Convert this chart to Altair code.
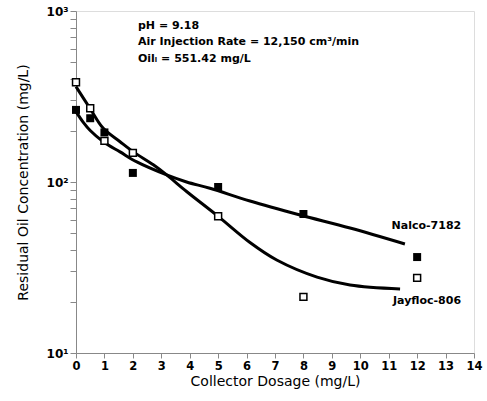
import altair as alt
import pandas as pd

# Measured residual oil concentration vs collector dosage
dosage = [0, 0.5, 1, 2, 5, 8, 12]
nalco_obs = [264, 236, 195, 113, 93.5, 65, 36.4]
jayfloc_obs = [383, 270, 174, 148, 63, 21.3, 27.5]

# Smoothed trend curves
nalco_fit_x = [0, 0.25, 0.5, 0.96, 1.55, 2.14, 3.19, 3.89, 4.71, 6.12, 7.88, 9.64, 11.57]
nalco_fit_y = [258, 224, 200, 172, 150, 131, 110, 100, 92, 77.4, 64.1, 53.8, 43.4]
jay_fit_x = [0, 0.49, 0.96, 1.55, 2.02, 2.72, 3.19, 3.89, 5.0, 6.12, 7.06, 8.48, 9.64, 11.4]
jay_fit_y = [361, 270, 206, 172, 150, 126, 110, 88, 63, 44.3, 35, 27.8, 25, 23.7]

# Series labels and conditions text
series_names = ["Nalco-7182", "Jayfloc-806"]
series_label_x = [11.1, 11.15]
series_label_y = [55.3, 20.2]
cond_text = ["pH = 9.18", "Air Injection Rate = 12,150 cm³/min", "Oilᵢ = 551.42 mg/L"]
cond_x = [2.18, 2.18, 2.18]
cond_y = [817, 655, 527]

x_ticks = list(range(0, 15))
y_ticks = [v * m for m in (10, 100) for v in range(1, 10)] + [1000]

FONT = "DejaVu Sans"

obs = pd.DataFrame({
    "dosage": dosage * 2,
    "conc": nalco_obs + jayfloc_obs,
    "series": ["Nalco-7182"] * len(dosage) + ["Jayfloc-806"] * len(dosage),
})
fit = pd.DataFrame({
    "dosage": nalco_fit_x + jay_fit_x,
    "conc": nalco_fit_y + jay_fit_y,
    "series": ["Nalco-7182"] * len(nalco_fit_x) + ["Jayfloc-806"] * len(jay_fit_x),
})
labels = pd.DataFrame({"dosage": series_label_x, "conc": series_label_y, "t": series_names})
conds = pd.DataFrame({"dosage": cond_x, "conc": cond_y, "t": cond_text})

x_scale = alt.Scale(domain=[0, 14], nice=False, zero=False)
y_scale = alt.Scale(type="log", domain=[10, 1000], nice=False)

x_axis = alt.Axis(
    title="Collector Dosage (mg/L)", values=x_ticks, labelOverlap=False, labelFlush=False,
    labelExpr="format(datum.value, 'd')",
    grid=False, tickSize=5, labelPadding=2, titlePadding=3,
    labelFont=FONT, labelFontSize=11.5, labelFontWeight="bold",
    titleFont=FONT, titleFontSize=14, titleFontWeight="normal",
)
y_axis = alt.Axis(
    title="Residual Oil Concentration (mg/L)", values=y_ticks, labelOverlap=False,
    labelFlush=False,
    labelExpr="datum.value == 1000 ? '10³' : datum.value == 100 ? '10²' : datum.value == 10 ? '10¹' : ''",
    grid=False, tickSize=6, labelPadding=2, titlePadding=16,
    labelFont=FONT, labelFontSize=12, labelFontWeight="bold",
    titleFont=FONT, titleFontSize=14, titleFontWeight="normal",
)

X = alt.X("dosage:Q", scale=x_scale, axis=x_axis)
Y = alt.Y("conc:Q", scale=y_scale, axis=y_axis)

curves = alt.Chart(fit).mark_line(color="black", strokeWidth=3, interpolate="catmull-rom").encode(
    x=X, y=Y, detail="series:N"
)
filled_pts = alt.Chart(obs).transform_filter(alt.datum.series == "Nalco-7182").mark_point(
    shape="square", filled=True, color="black", size=64, opacity=1
).encode(x=X, y=Y)
open_pts = alt.Chart(obs).transform_filter(alt.datum.series == "Jayfloc-806").mark_point(
    shape="square", filled=False, fill="white", fillOpacity=1, stroke="black",
    strokeWidth=1.5, size=48, opacity=1
).encode(x=X, y=Y)

series_text = alt.Chart(labels).mark_text(
    align="left", baseline="middle", font=FONT, fontSize=11, fontWeight="bold", color="black"
).encode(x=X, y=Y, text="t:N")
cond_marks = alt.Chart(conds).mark_text(
    align="left", baseline="middle", font=FONT, fontSize=11, fontWeight="bold", color="black"
).encode(x=X, y=Y, text="t:N")

chart = alt.layer(curves, filled_pts, open_pts, series_text, cond_marks).properties(
    width=398, height=342,
    padding={"left": 76, "top": 11, "right": 13, "bottom": 48},
    autosize=alt.AutoSizeParams(type="none"),
).configure_view(
    stroke="black", strokeWidth=2
).configure_axis(
    domainColor="black", domainWidth=2, tickColor="black", tickWidth=1.2,
    labelColor="black", titleColor="black", labelOverlap=False, labelFlush=False,
).configure(background="white")

chart.save("out.html", embed_options={"renderer": "svg", "actions": False})
